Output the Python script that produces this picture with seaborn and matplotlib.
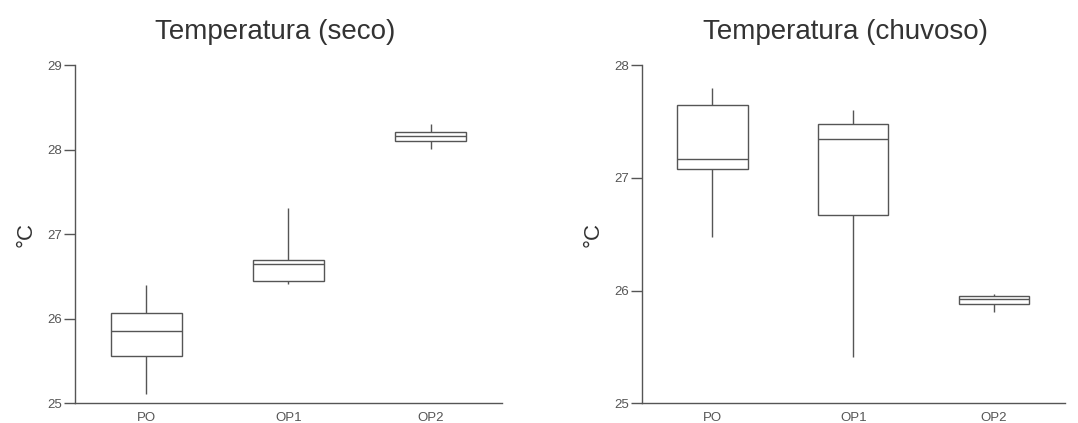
import numpy as np
import pandas as pd
import matplotlib
matplotlib.use("Agg")
import matplotlib.pyplot as plt
import seaborn as sns

# Data: five-number summaries (min, Q1, median, Q3, max)
categories = ["PO", "OP1", "OP2"]

seco_po = [25.11, 25.56, 25.86, 26.07, 26.40]
seco_op1 = [26.41, 26.45, 26.65, 26.70, 27.31]
seco_op2 = [28.01, 28.10, 28.16, 28.21, 28.30]

chuvoso_po = [26.48, 27.08, 27.17, 27.65, 27.80]
chuvoso_op1 = [25.41, 26.67, 27.35, 27.48, 27.60]
chuvoso_op2 = [25.81, 25.88, 25.93, 25.95, 25.97]

titles = ["Temperatura (seco)", "Temperatura (chuvoso)"]
ylabel = "°C"
seco_ticks = [25, 26, 27, 28, 29]
chuvoso_ticks = [25, 26, 27, 28]

sns.set_theme(style="ticks")
plt.rcParams["font.family"] = ["Liberation Sans", "DejaVu Sans"]

def make_df(groups):
    rows = []
    for cat, vals in zip(categories, groups):
        for v in vals:
            rows.append({"local": cat, "temp": v})
    return pd.DataFrame(rows)

df_seco = make_df([seco_po, seco_op1, seco_op2])
df_chuv = make_df([chuvoso_po, chuvoso_op1, chuvoso_op2])

fig = plt.figure(figsize=(10.78, 4.23), dpi=100)
ax1 = fig.add_axes([0.0696, 0.0466, 0.396, 0.799])
ax2 = fig.add_axes([0.5955, 0.0466, 0.392, 0.799])

line_col = "#555555"
box_kw = dict(
    x="local", y="temp", order=categories, whis=(0, 100), width=0.5,
    color="white", linecolor=line_col, linewidth=1.0, fliersize=0,
    showcaps=False,
)

for ax, df, title, ticks, tx in [
    (ax1, df_seco, titles[0], seco_ticks, 0.468),
    (ax2, df_chuv, titles[1], chuvoso_ticks, 0.482),
]:
    sns.boxplot(data=df, ax=ax, **box_kw)
    ax.set_xlim(-0.5, 2.5)
    ax.set_ylim(ticks[0], ticks[-1])
    ax.set_yticks(ticks)
    ax.set_yticklabels([str(t) for t in ticks])
    ax.set_xlabel("")
    ax.set_ylabel(ylabel, fontsize=16, color="#333333", labelpad=8)
    ax.set_title(title, fontsize=20, color="#333333", pad=19, x=tx)
    for s in ["top", "right"]:
        ax.spines[s].set_visible(False)
    for s in ["left", "bottom"]:
        ax.spines[s].set_color(line_col)
        ax.spines[s].set_linewidth(1.0)
    ax.tick_params(axis="y", length=8, width=1, color=line_col,
                   labelsize=9.5, labelcolor="#555555", pad=1)
    ax.tick_params(axis="x", length=0, labelsize=9.5, labelcolor="#555555", pad=6)

fig.savefig("out.png", dpi=100)
